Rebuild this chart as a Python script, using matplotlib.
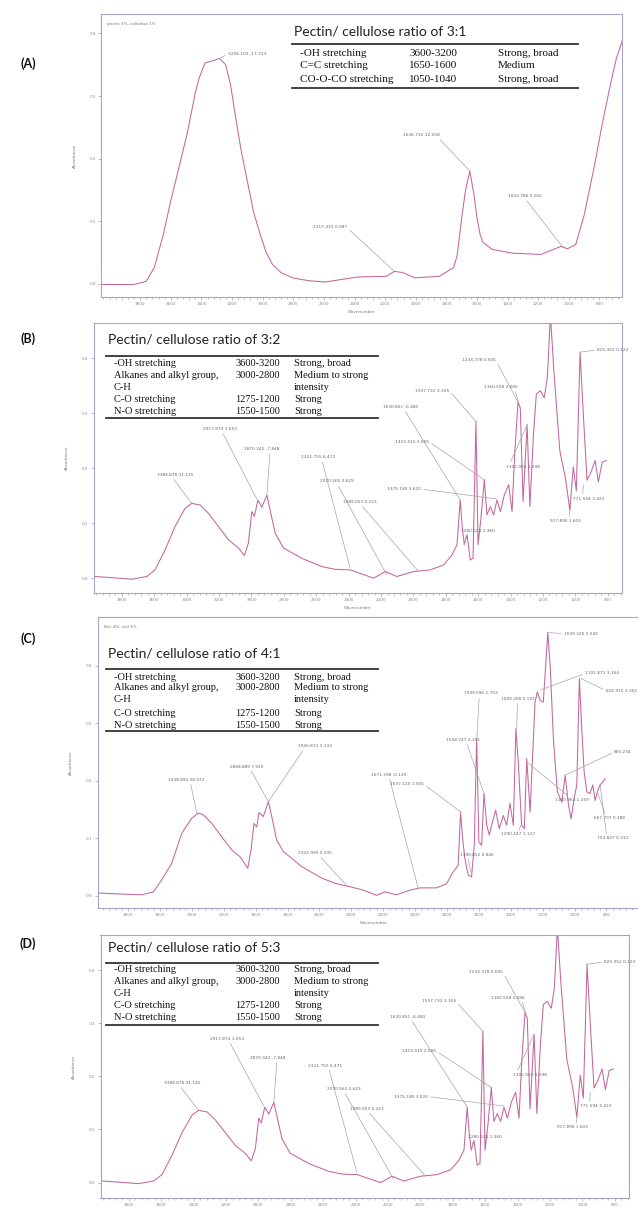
import matplotlib
matplotlib.use("Agg")
import matplotlib.pyplot as plt
from matplotlib.lines import Line2D
from matplotlib.ticker import FixedLocator, MultipleLocator, FormatStrFormatter

W, H = 638, 1210

# spectra: wavenumber (cm-1) and absorbance
wn_a = [4056, 3840, 3761, 3708, 3650, 3601, 3495, 3440, 3415, 3376,
        3330, 3282, 3242, 3210, 3176, 3140, 3096, 3060, 3016, 2980,
        2936, 2880, 2804, 2700, 2591, 2378, 2192, 2139, 2085, 2006,
        1846, 1753, 1730, 1700, 1675, 1647, 1620, 1600, 1580, 1560,
        1500, 1368, 1181, 1102, 1049, 1009, 955, 900, 836, 780,
        729, 690, 649]
abs_a = [-0.001, -0.001, 0.004, 0.026, 0.078, 0.132, 0.238, 0.305, 0.329, 0.353,
         0.356, 0.360, 0.350, 0.318, 0.265, 0.212, 0.159, 0.115, 0.079, 0.052,
         0.031, 0.018, 0.0096, 0.005, 0.003, 0.011, 0.012, 0.020, 0.018, 0.0096,
         0.012, 0.026, 0.045, 0.105, 0.150, 0.180, 0.143, 0.105, 0.079, 0.066,
         0.055, 0.049, 0.047, 0.055, 0.060, 0.056, 0.063, 0.110, 0.185, 0.258,
         0.318, 0.360, 0.390]

wn_b = [3966, 3822, 3740, 3647, 3596, 3534, 3472, 3410, 3369, 3317,
        3266, 3204, 3143, 3081, 3044, 3019, 2998, 2982, 2961, 2936,
        2905, 2885, 2854, 2803, 2689, 2565, 2483, 2390, 2246, 2174,
        2102, 1999, 1896, 1814, 1762, 1731, 1711, 1698, 1686, 1669,
        1649, 1632, 1614, 1601, 1583, 1562, 1546, 1525, 1505, 1484,
        1463, 1439, 1412, 1391, 1375, 1354, 1340, 1323, 1298, 1281,
        1259, 1241, 1216, 1192, 1173, 1154, 1133, 1096, 1059, 1034,
        1013, 994, 971, 951, 928, 903, 878, 858, 834, 809]
abs_b = [0.003, 0.0, -0.002, 0.003, 0.015, 0.051, 0.094, 0.127, 0.136, 0.133,
         0.118, 0.094, 0.070, 0.055, 0.041, 0.064, 0.121, 0.112, 0.142, 0.129,
         0.151, 0.124, 0.082, 0.055, 0.036, 0.021, 0.016, 0.015, 0.0, 0.012,
         0.003, 0.012, 0.015, 0.024, 0.042, 0.061, 0.142, 0.091, 0.061, 0.079,
         0.033, 0.036, 0.285, 0.061, 0.109, 0.179, 0.115, 0.130, 0.115, 0.142,
         0.121, 0.151, 0.170, 0.121, 0.224, 0.320, 0.309, 0.139, 0.279, 0.130,
         0.260, 0.335, 0.341, 0.328, 0.365, 0.480, 0.378, 0.232, 0.178, 0.123,
         0.202, 0.159, 0.411, 0.299, 0.178, 0.193, 0.214, 0.175, 0.211, 0.214]

wn_c = [3986, 3819, 3714, 3641, 3589, 3526, 3463, 3401, 3359, 3328,
        3275, 3213, 3150, 3098, 3049, 3029, 3010, 2993, 2979, 2952,
        2920, 2899, 2868, 2826, 2711, 2586, 2502, 2408, 2325, 2241,
        2189, 2116, 2033, 1970, 1866, 1803, 1761, 1730, 1715, 1702,
        1688, 1667, 1646, 1629, 1614, 1600, 1583, 1568, 1551, 1535,
        1520, 1495, 1472, 1447, 1426, 1405, 1384, 1368, 1353, 1332,
        1315, 1300, 1279, 1248, 1233, 1216, 1196, 1168, 1153, 1133,
        1108, 1080, 1059, 1038, 1022, 1003, 986, 970, 955, 940,
        923, 903, 886, 871, 857, 840, 823, 808]
abs_c = [0.005, 0.003, 0.002, 0.007, 0.028, 0.057, 0.109, 0.135, 0.144, 0.141,
         0.126, 0.103, 0.080, 0.068, 0.048, 0.080, 0.126, 0.120, 0.145, 0.138,
         0.164, 0.138, 0.097, 0.077, 0.051, 0.031, 0.022, 0.016, 0.010, 0.001,
         0.007, 0.002, 0.010, 0.014, 0.014, 0.021, 0.042, 0.053, 0.146, 0.100,
         0.065, 0.036, 0.033, 0.088, 0.274, 0.094, 0.088, 0.178, 0.123, 0.106,
         0.123, 0.149, 0.117, 0.140, 0.123, 0.161, 0.123, 0.291, 0.233, 0.123,
         0.117, 0.239, 0.146, 0.337, 0.355, 0.340, 0.337, 0.458, 0.401, 0.274,
         0.181, 0.163, 0.210, 0.158, 0.134, 0.169, 0.193, 0.378, 0.291, 0.216,
         0.181, 0.178, 0.193, 0.166, 0.181, 0.193, 0.198, 0.204]

# panel (D) shows the same spectrum as panel (B)
wn_d = wn_b
abs_d = abs_b

x_ticks = list(range(3800, 700, -200))
y_ticks = [0.0, 0.1, 0.2, 0.3, 0.4]

# peak labels: text, label position, peak position (both wavenumber/absorbance), leader anchor
notes_a = [
    ("3294.103 -17.723", (3104, 0.367), (3282, 0.360), (0, 0.5)),
    ("2117.415 0.087", (2558, 0.091), (2144, 0.021), (1, 0.2)),
    ("1636.732 12.558", (1966, 0.238), (1647, 0.180), (0.95, 0)),
    ("1043.780 0.160", (1288, 0.140), (1035, 0.057), (0.5, 0)),
]
notes_b = [
    ("3388.878 31.145", (3469, 0.188), (3369, 0.136), (0.4, 0)),
    ("2917.874 1.653", (3194, 0.271), (2967, 0.144), (0.55, 0)),
    ("2870.342 -7.848", (2940, 0.235), (2905, 0.151), (0.75, 0)),
    ("2321.755 6.471", (2588, 0.220), (2391, 0.018), (0.6, 0)),
    ("2070.565 0.629", (2473, 0.176), (2165, 0.006), (0.5, 0)),
    ("1989.053 0.223", (2329, 0.139), (1968, 0.012), (0.5, 0)),
    ("1630.851 -6.480", (2082, 0.312), (1711, 0.142), (0.6, 0)),
    ("1419.415 2.605", (2009, 0.248), (1562, 0.179), (1, 0.5)),
    ("1597.732 3.355", (1886, 0.341), (1614, 0.285), (1, 0.5)),
    ("1375.180 3.620", (2057, 0.162), (1484, 0.144), (1, 0.5)),
    ("1280.528 1.360", (1603, 0.085), (1686, 0.061), (0.2, 1)),
    ("1234.378 0.605", (1598, 0.397), (1354, 0.320), (1, 0.5)),
    ("1160.558 2.066", (1459, 0.348), (1340, 0.309), (0.9, 0)),
    ("1105.953 1.598", (1323, 0.203), (1298, 0.279), (0.1, 1)),
    ("917.890 1.603", (1059, 0.104), (1034, 0.123), (0.6, 1)),
    ("771.594 3.422", (917, 0.144), (951, 0.170), (0.3, 1)),
    ("825.352 0.122", (771, 0.415), (971, 0.411), (0, 0.5)),
]
notes_c = [
    ("3338.890 38.972", (3433, 0.202), (3369, 0.144), (0.6, 0)),
    ("2868.889 7.920", (3057, 0.225), (2920, 0.164), (0.6, 0)),
    ("2926.813 1.133", (2628, 0.261), (2920, 0.164), (0.2, 0)),
    ("2342.999 0.335", (2628, 0.075), (2422, 0.016), (0.6, 0)),
    ("1671.398 -0.120", (2164, 0.211), (1980, 0.013), (0.5, 0)),
    ("1637.120 1.065", (2051, 0.194), (1714, 0.146), (1, 0.5)),
    ("1558.747 2.201", (1700, 0.271), (1568, 0.178), (0.6, 0)),
    ("1599.696 2.753", (1587, 0.352), (1614, 0.268), (0.45, 0)),
    ("1390.852 0.846", (1612, 0.072), (1646, 0.036), (0.2, 1)),
    ("1049.308 5.193", (1358, 0.343), (1363, 0.291), (0.5, 0)),
    ("1290.447 1.127", (1355, 0.107), (1336, 0.123), (0.5, 1)),
    ("1039.326 5.545", (960, 0.456), (1168, 0.458), (0, 0.5)),
    ("1101.871 3.164", (826, 0.387), (1214, 0.358), (0, 0.5)),
    ("826.915 3.302", (706, 0.357), (960, 0.378), (0, 0.5)),
    ("1100.964 1.259", (1015, 0.167), (1300, 0.233), (0.45, 1)),
    ("893.234", (696, 0.250), (1059, 0.210), (0, 0.5)),
    ("667.797 0.388", (784, 0.135), (857, 0.181), (0.4, 1)),
    ("753.847 0.312", (759, 0.100), (840, 0.193), (0.3, 1)),
]
notes_d = notes_b

# assignment tables
title_a = "Pectin/ cellulose ratio of 3:1"
rows_a = [("-OH stretching", "3600-3200", "Strong, broad"),
          ("C=C stretching", "1650-1600", "Medium"),
          ("CO-O-CO stretching", "1050-1040", "Strong, broad")]
rows_bcd = [("-OH stretching", "3600-3200", "Strong, broad"),
            ("Alkanes and alkyl group,", "3000-2800", "Medium to strong"),
            ("C-H", "", "intensity"),
            ("C-O stretching", "1275-1200", "Strong"),
            ("N-O stretching", "1550-1500", "Strong")]
titles_bcd = ["Pectin/ cellulose ratio of 3:2",
              "Pectin/ cellulose ratio of 4:1",
              "Pectin/ cellulose ratio of 5:3"]

CURVE = "#c4669c"
LEADER = "#a8a2a6"
FRAME = "#a4a6c4"
TICKC = "#8a8a8a"

fig = plt.figure(figsize=(W / 100, H / 100), dpi=100)
fig.patch.set_facecolor("white")
renderer = fig.canvas.get_renderer()


def rect(l, t, r, b):
    return [l / W, 1 - b / H, (r - l) / W, (b - t) / H]


def fx(x):
    return x / W


def fy(y):
    return 1 - y / H


def draw_panel(box, wn, ab, xlim, ylim, notes, header=None, xlabel=True):
    ax = fig.add_axes(rect(*box))
    ax.plot(wn, ab, color=CURVE, lw=0.75)
    ax.set_xlim(*xlim)
    ax.set_ylim(*ylim)
    ax.xaxis.set_major_locator(FixedLocator(x_ticks))
    ax.xaxis.set_minor_locator(MultipleLocator(40))
    ax.yaxis.set_major_locator(FixedLocator(y_ticks))
    ax.yaxis.set_major_formatter(FormatStrFormatter("%.1f"))
    ax.tick_params(which="both", labelsize=3, colors=TICKC, width=0.4, pad=1.5)
    ax.tick_params(which="major", length=2.2)
    ax.tick_params(which="minor", length=1.2)
    for s in ax.spines.values():
        s.set_color(FRAME)
        s.set_linewidth(0.8)
    if xlabel:
        ax.set_xlabel("Wavenumber", fontsize=3, color="#777777", labelpad=2.5)
    ax.set_ylabel("Absorbance", fontsize=3, color="#777777", labelpad=9)
    for label, (tx, ty), (px, py), rel in notes:
        ax.annotate(label, xy=(px, py), xytext=(tx, ty), fontsize=3.1,
                    color="#666666", ha="center", va="center",
                    annotation_clip=False,
                    arrowprops=dict(arrowstyle="-", color=LEADER, lw=0.5,
                                    shrinkA=0, shrinkB=0, relpos=rel))
    if header:
        ax.text(0.012, 0.965, header, transform=ax.transAxes, fontsize=3,
                color="#777777", va="center")
    return ax


def fit_width(t, target):
    w = t.get_window_extent(renderer).width
    t.set_fontsize(t.get_fontsize() * target / w)


def draw_table(title, rows, cols, y_title, y_top, y_rows, y_bottom, line_x, size):
    t = fig.text(fx(cols[0] - 6), fy(y_title), title, family="Lato",
                 fontsize=10, va="center", color="#222222")
    fit_width(t, 172)
    for y in (y_top, y_bottom):
        fig.add_artist(Line2D([fx(line_x[0]), fx(line_x[1])], [fy(y), fy(y)],
                              color="#333333", lw=1.3))
    for row, y in zip(rows, y_rows):
        for txt, x in zip(row, cols):
            fig.text(fx(x), fy(y), txt, family="Liberation Serif",
                     fontsize=size, va="center", color="#111111")


draw_panel((101, 14, 622, 297), wn_a, abs_a, (4056, 653), (-0.021, 0.431),
           notes_a, header="pectin 3%, cellulose 1%")
draw_panel((93.6, 323, 622, 593), wn_b, abs_b, (3975, 712), (-0.027, 0.464), notes_b)
draw_panel((97.6, 617, 650, 908), wn_c, abs_c, (3991, 527), (-0.021, 0.485),
           notes_c, header="Bec 4%, cell 3%")
draw_panel((100.5, 935, 629, 1198), wn_d, abs_d, (3975, 712), (-0.029, 0.466),
           notes_d, xlabel=False)

draw_table(title_a, rows_a, (300, 409, 498), 31, 44, (53, 66, 79), 88, (292, 578), 8)
draw_table(titles_bcd[0], rows_bcd, (114, 235, 294), 339, 356,
           (363, 375, 387, 399, 411), 418, (106, 378), 7.5)
draw_table(titles_bcd[1], rows_bcd, (114, 235, 294), 654, 669,
           (677, 688, 700, 713, 725), 731, (106, 378), 7.5)
draw_table(titles_bcd[2], rows_bcd, (114, 235, 294), 948, 963,
           (970, 982, 994, 1006, 1018), 1025, (106, 378), 7.5)

for letter, y in zip(["(A)", "(B)", "(C)", "(D)"], [64, 339, 639, 944]):
    fig.text(fx(28), fy(y), letter, family="Lato", fontweight="bold",
             fontsize=9, ha="center", va="center", color="#111111")

fig.savefig("out.png", dpi=100, facecolor="white")
